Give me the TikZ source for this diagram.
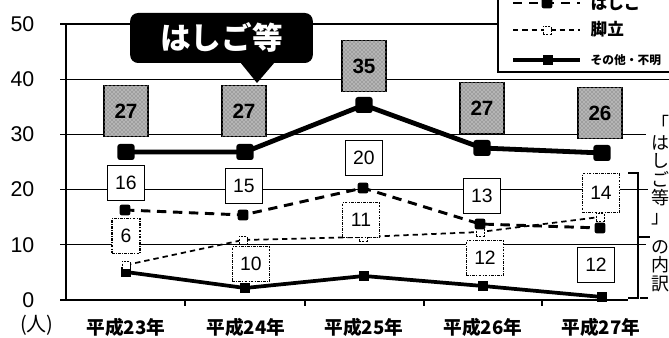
\documentclass[tikz,border=0pt]{standalone}
\usepackage{fontspec}
\setmainfont{Liberation Sans}
\newfontfamily\jp{Noto Sans CJK JP}
\usetikzlibrary{patterns}
\usetikzlibrary{positioning}

\begin{document}
\begin{tikzpicture}[x=0.75pt,y=0.75pt,
  grid/.style={black,line width=1pt},
  ylab/.style={anchor=east,font=\fontsize{16}{16}\selectfont},
  xlab/.style={font=\jp\bfseries\fontsize{14}{14}\selectfont},
  totbox/.style={draw=black,line width=1.2pt,fill=gray!75,postaction={pattern=crosshatch dots,pattern color=white},minimum width=33pt,minimum height=38pt,inner sep=0pt,font=\bfseries\fontsize{15.5}{15.5}\selectfont},
  hbox/.style={draw=black,line width=1.1pt,fill=white,minimum width=28pt,minimum height=26pt,inner sep=0pt,font=\fontsize{14.5}{14.5}\selectfont},
  kbox/.style={hbox,line width=0.8pt,dash pattern=on 2pt off 1pt on 0.6pt off 1pt},
  totline/.style={line width=3.6pt,line join=round},
  hline/.style={line width=2.2pt,dash pattern=on 7pt off 5pt},
  kline/.style={line width=1.3pt,dash pattern=on 4pt off 3pt},
  sline/.style={line width=2.8pt,line join=round},
  totmark/.style={rectangle,fill=black,rounded corners=2pt,minimum width=13pt,minimum height=12pt,inner sep=0pt},
  hmark/.style={rectangle,fill=black,rounded corners=1.5pt,minimum size=8pt,inner sep=0pt},
  kmark/.style={rectangle,fill=white,draw=black,line width=0.7pt,dash pattern=on 1.5pt off 1pt,minimum size=6pt,inner sep=0pt},
  smark/.style={rectangle,fill=black,minimum size=7pt,inner sep=0pt},
  legtext/.style={anchor=west,font=\jp\bfseries\fontsize{12.5}{12.5}\selectfont}]
\useasboundingbox (0,0) rectangle (669,338);
\clip (0,0) rectangle (669,338);

\draw[grid] (60,93.2) -- (646,93.2);
\draw[grid] (60,148.4) -- (648,148.4);
\draw[grid] (60,203.6) -- (646,203.6);
\draw[grid] (60,258.8) -- (669,258.8);
\draw[grid] (60,314) -- (646,314);
\draw[grid] (60,38) -- (628,38);
\draw[grid] (66,38) -- (66,314);
\draw[grid] (185,38) -- (185,32);
\draw[grid] (305,38) -- (305,32);
\draw[grid] (424,38) -- (424,32);
\draw[grid] (542,38) -- (542,32);

\node[ylab] (y0) at (39,38) {0};
\node[ylab] (y10) at (39,93.2) {10};
\node[ylab] (y20) at (39,148.4) {20};
\node[ylab] (y30) at (39,203.6) {30};
\node[ylab] (y40) at (39,258.8) {40};
\node[ylab] (y50) at (39,314) {50};
\node[font=\jp\fontsize{15}{15}\selectfont] (unit) at (37,13) {(人)};

\node[xlab] (x23) at (126,11) {平成23年};
\node[xlab] (x24) at (246,11) {平成24年};
\node[xlab] (x25) at (364,11) {平成25年};
\node[xlab] (x26) at (483,11) {平成26年};
\node[xlab] (x27) at (601,11) {平成27年};

\coordinate (t23) at (126,186);
\coordinate (t24) at (245,186);
\coordinate (t25) at (364,233);
\coordinate (t26) at (482,190);
\coordinate (t27) at (602,185);
\coordinate (h23) at (125,128);
\coordinate (h24) at (243,123);
\coordinate (h25) at (363,150);
\coordinate (h26) at (480,114);
\coordinate (h27) at (600,110);
\coordinate (k23) at (126,73);
\coordinate (k24) at (243,98);
\coordinate (k25) at (363,101);
\coordinate (k26) at (480,106);
\coordinate (k27) at (600,121);
\coordinate (s23) at (126,66);
\coordinate (s24) at (245,50);
\coordinate (s25) at (364,62);
\coordinate (s26) at (483,52);
\coordinate (s27) at (602,41);

\draw[sline] (s23) -- (s24) -- (s25) -- (s26) -- (s27);
\draw[kline] (k23) -- (k24) -- (k25) -- (k26) -- (k27);
\draw[hline] (h23) -- (h24) -- (h25) -- (h26) -- (h27);
\draw[totline] (t23) -- (t24) -- (t25) -- (t26) -- (t27);
\node[smark] at (s23) {}; \node[smark] at (s24) {}; \node[smark] at (s25) {}; \node[smark] at (s26) {}; \node[smark] at (s27) {};
\node[kmark] at (k23) {}; \node[kmark] at (k24) {}; \node[kmark] at (k25) {}; \node[kmark] at (k26) {}; \node[kmark] at (k27) {};
\node[hmark] at (h23) {}; \node[hmark] at (h24) {}; \node[hmark] at (h25) {}; \node[hmark] at (h26) {}; \node[hmark] at (h27) {};
\node[totmark] at (t23) {}; \node[totmark] at (t24) {}; \node[totmark] at (t25) {}; \node[totmark] at (t26) {}; \node[totmark] at (t27) {};

\node[totbox] (b23) at (126,227) {27};
\node[totbox] (b24) at (244,227) {27};
\node[totbox] (b25) at (364,272) {35};
\node[totbox] (b26) at (482,230) {27};
\node[totbox] (b27) at (600,225) {26};

\node[hbox] (lh23) at (126,155) {16};
\node[hbox] (lh24) at (244,152) {15};
\node[hbox] (lh25) at (364,180) {20};
\node[hbox] (lh26) at (482,142) {13};
\node[hbox] (lh27) at (596,73) {12};
\node[kbox,minimum width=21pt] (lk23) at (126,102) {6};
\node[kbox] (lk24) at (251,74) {10};
\node[kbox] (lk25) at (361,118) {11};
\node[kbox] (lk26) at (485,80) {12};
\node[kbox,minimum height=29pt] (lk27) at (601,145) {14};

\node[fill=black,rounded corners=6pt,minimum width=137pt,minimum height=37.5pt,text=white,font=\jp\bfseries\fontsize{23}{23}\selectfont] (cl) at (221.5,300) {はしご等};
\fill[black] (240,276) -- (275,276) -- (257,255) -- cycle;

\draw[line width=1pt,fill=white] (498,266) rectangle (680,350);
\draw[hline] (513,335) -- (580,335);
\node[hmark] (m1) at (547,335) {};
\node[legtext] (l1) at (586,335) {はしご};
\draw[kline] (513,308) -- (580,308);
\node[kmark] (m2) at (547,308) {};
\node[legtext] (l2) at (586,308.5) {脚立};
\draw[sline] (513,278) -- (580,278);
\node[smark] (m3) at (548,278) {};
\node[legtext,font=\jp\bfseries\fontsize{8.8}{8.8}\selectfont] (l3) at (586,278) {その他・不明};

\draw[grid] (628,165) -- (638,165) -- (638,40) -- (628,40);
\draw[grid] (638,101) -- (650,101);
\draw[grid] (640,40) -- (648,40);
\node[anchor=north,align=center,inner sep=0pt,font=\jp\fontsize{13.5}{13.9}\selectfont] (vt1) at (660,223) {「\\は\\し\\ご\\等\\」};
\node[anchor=north,align=center,inner sep=0pt,font=\jp\fontsize{13.5}{13.9}\selectfont] (vt2) at (660,98) {の\\内\\訳};

\end{tikzpicture}
\end{document}
